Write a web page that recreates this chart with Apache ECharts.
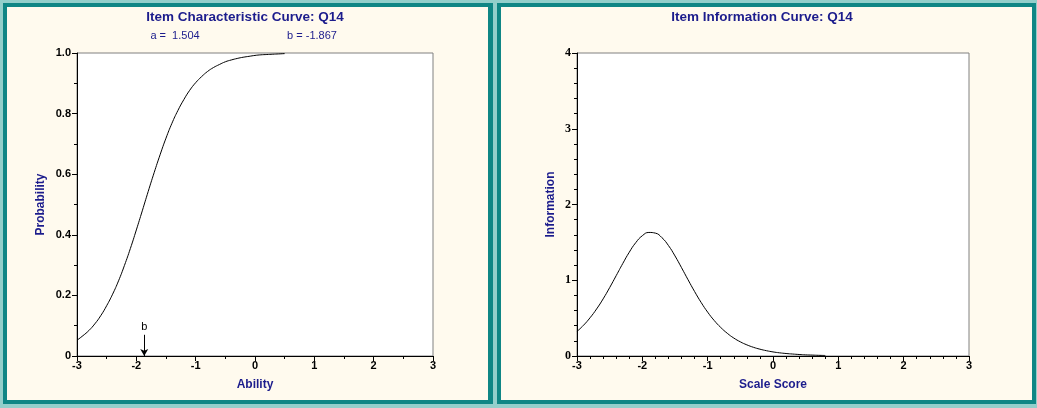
<!DOCTYPE html>
<html>
<head>
<meta charset="utf-8">
<script src="https://cdn.jsdelivr.net/npm/echarts@6/dist/echarts.min.js"></script>
<style>
html,body{margin:0;padding:0;background:#93cfcb;}
#c{width:1037px;height:408px;}
</style>
</head>
<body>
<div id="c"></div>
<script>
// Item parameters
const paramA = 1.504;
const paramB = -1.867;
// Ability grid for ICC
const iccTheta = [-3,-2.9,-2.8,-2.7,-2.6,-2.5,-2.4,-2.3,-2.2,-2.1,-2,-1.9,-1.8,-1.7,-1.6,-1.5,-1.4,-1.3,-1.2,-1.1,-1,-0.9,-0.8,-0.7,-0.6,-0.5,-0.4,-0.3,-0.2,-0.1,0,0.1,0.2,0.3,0.4,0.5];
const iccProb = [0.052,0.067,0.084,0.106,0.133,0.166,0.204,0.248,0.299,0.355,0.416,0.479,0.543,0.605,0.664,0.719,0.768,0.810,0.846,0.877,0.902,0.922,0.939,0.952,0.962,0.971,0.977,0.982,0.986,0.989,0.992,0.994,0.995,0.996,0.997,0.998];
// Scale score grid for information curve
const iicTheta = [-3,-2.9,-2.8,-2.7,-2.6,-2.5,-2.4,-2.3,-2.2,-2.1,-2,-1.9,-1.8,-1.7,-1.6,-1.5,-1.4,-1.3,-1.2,-1.1,-1,-0.9,-0.8,-0.7,-0.6,-0.5,-0.4,-0.3,-0.2,-0.1,0,0.1,0.2,0.3,0.4,0.5,0.6,0.7,0.8];
const iicInfo = [0.324,0.406,0.505,0.621,0.754,0.903,1.061,1.220,1.370,1.497,1.588,1.631,1.622,1.562,1.458,1.321,1.166,1.006,0.851,0.707,0.579,0.469,0.377,0.300,0.237,0.187,0.147,0.115,0.090,0.070,0.054,0.042,0.033,0.026,0.020,0.015,0.012,0.009,0.007];
// Tick labels
const iccXTicks = [-3,-2,-1,0,1,2,3];
const iccYTicks = ['0','0.2','0.4','0.6','0.8','1.0'];
const iicYTicks = ['0','1','2','3','4'];

const navy = '#1c1c8c';
const iccData = iccTheta.map((t,i)=>[t,iccProb[i]]);
const iicData = iicTheta.map((t,i)=>[t,iicInfo[i]]);

const axisLabelSans = {color:'#000',fontFamily:'Arial, Liberation Sans',fontWeight:'bold',fontSize:11};
const axisLabelSerif = {color:'#000',fontFamily:'Times New Roman, Liberation Serif',fontWeight:'bold',fontSize:12};
const nameStyle = {color:navy,fontFamily:'Arial, Liberation Sans',fontWeight:'bold',fontSize:12};

function xAx(gi,name,minorSplit){
  return {type:'value',gridIndex:gi,min:-3,max:3,interval:1,
    name:name,nameLocation:'middle',nameGap:23,nameTextStyle:nameStyle,
    axisLine:{onZero:false,lineStyle:{color:'#000',width:1}},
    axisTick:{show:true,inside:false,length:5,lineStyle:{color:'#000'}},
    minorTick:{show:true,splitNumber:minorSplit,length:3,lineStyle:{color:'#000'}},
    splitLine:{show:false},
    axisLabel:Object.assign({margin:4,formatter:v=>String(iccXTicks[Math.round(v+3)])},axisLabelSans)};
}
function yAx(gi,name,max,interval,minorSplit,labels,lab,gap){
  return {type:'value',gridIndex:gi,min:0,max:max,interval:interval,
    name:name,nameLocation:'middle',nameGap:gap,nameRotate:90,nameTextStyle:nameStyle,
    axisLine:{show:true,onZero:false,lineStyle:{color:'#000',width:1}},
    axisTick:{show:true,inside:false,length:5,lineStyle:{color:'#000'}},
    minorTick:{show:true,splitNumber:minorSplit,length:3,lineStyle:{color:'#000'}},
    splitLine:{show:false},
    axisLabel:Object.assign({margin:6,formatter:v=>labels[Math.round(v/interval)]},lab)};
}

const chart = echarts.init(document.getElementById('c'),null,{renderer:'canvas'});
chart.setOption({
  backgroundColor:'#93cfcb',
  animation:false,
  graphic:[
    {type:'rect',z:-10,silent:true,shape:{x:3,y:3,width:490,height:401},style:{fill:'#0f8685'}},
    {type:'rect',z:-9,silent:true,shape:{x:7,y:7,width:481,height:393},style:{fill:'#fffaee'}},
    {type:'rect',z:-10,silent:true,shape:{x:497,y:3,width:539,height:401},style:{fill:'#0f8685'}},
    {type:'rect',z:-9,silent:true,shape:{x:501,y:7,width:531,height:393},style:{fill:'#fffaee'}}
  ],
  title:[
    {text:'Item Characteristic Curve: Q14',left:240,top:5,textAlign:'center',
     textStyle:{color:navy,fontFamily:'Arial, Liberation Sans',fontWeight:'bold',fontSize:13.5}},
    {text:'a =  '+paramA.toFixed(3),left:170,top:25,textAlign:'center',
     textStyle:{color:navy,fontFamily:'Arial, Liberation Sans',fontWeight:'normal',fontSize:11}},
    {text:'b = '+paramB.toFixed(3),left:307,top:25,textAlign:'center',
     textStyle:{color:navy,fontFamily:'Arial, Liberation Sans',fontWeight:'normal',fontSize:11}},
    {text:'Item Information Curve: Q14',left:757,top:5,textAlign:'center',
     textStyle:{color:navy,fontFamily:'Arial, Liberation Sans',fontWeight:'bold',fontSize:13.5}}
  ],
  grid:[
    {left:77,top:53,width:356,height:303,show:true,backgroundColor:'#fff',borderColor:'#808080',borderWidth:1},
    {left:577,top:53,width:392,height:303,show:true,backgroundColor:'#fff',borderColor:'#808080',borderWidth:1}
  ],
  xAxis:[xAx(0,'Ability',2), xAx(1,'Scale Score',5)],
  yAxis:[
    yAx(0,'Probability',1,0.2,2,iccYTicks,axisLabelSans,30),
    yAx(1,'Information',4,1,5,iicYTicks,axisLabelSerif,20)
  ],
  series:[
    {type:'line',xAxisIndex:0,yAxisIndex:0,data:iccData,showSymbol:false,smooth:true,
     lineStyle:{color:'#000',width:1},
     markLine:{silent:true,animation:false,
       data:[[{coord:[paramB,0.07],symbol:'none',
               label:{show:true,position:'start',formatter:'b',color:'#000',fontFamily:'Arial, Liberation Sans',fontSize:11,distance:2}},
              {coord:[paramB,0],symbol:'arrow',symbolSize:[6,7]}]],
       lineStyle:{color:'#000',width:1,type:'solid'}}},
    {type:'line',xAxisIndex:1,yAxisIndex:1,data:iicData,showSymbol:false,smooth:true,
     lineStyle:{color:'#000',width:1}}
  ]
});
</script>
</body>
</html>
